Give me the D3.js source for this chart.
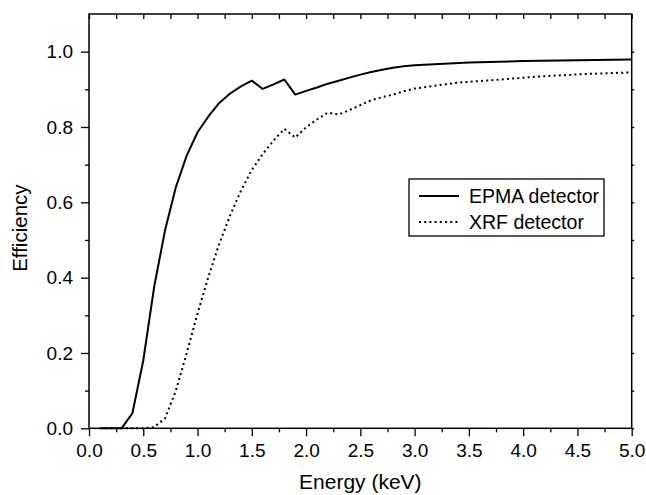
<!DOCTYPE html>
<html>
<head>
<meta charset="utf-8">
<script src="https://cdn.jsdelivr.net/npm/d3@7"></script>
<style>
  body { margin: 0; background: #fff; }
  svg { display: block; font-family: "Liberation Sans", Arial, sans-serif; }
</style>
</head>
<body>
<svg id="chart" width="646" height="495"></svg>
<script>
// Detector efficiency vs energy

const epmaEnergy = [0.1, 0.2, 0.3, 0.4, 0.5, 0.6, 0.7, 0.8, 0.9, 1.0, 1.1, 1.2, 1.3, 1.4, 1.5, 1.6, 1.7, 1.8, 1.9, 2.0,
    2.1, 2.2, 2.3, 2.4, 2.5, 2.6, 2.7, 2.8, 2.9, 3.0, 3.5, 4.0, 4.5, 5.0];
const epmaEff = [0, 0, 0, 0.04, 0.18, 0.375, 0.525, 0.64, 0.724, 0.786, 0.828, 0.864, 0.889, 0.908, 0.923, 0.901, 0.913, 0.926, 0.886, 0.896,
    0.905, 0.915, 0.923, 0.931, 0.939, 0.946, 0.952, 0.957, 0.961, 0.964, 0.971, 0.975, 0.977, 0.979];

const xrfEnergy = [0.1, 0.2, 0.3, 0.4, 0.5, 0.6, 0.7, 0.8, 0.9, 1.0, 1.1, 1.2, 1.3, 1.4, 1.5, 1.6, 1.7, 1.8, 1.9, 2.0,
    2.1, 2.2, 2.3, 2.4, 2.5, 2.6, 2.7, 2.8, 2.9, 3.0, 3.2, 3.4, 3.6, 3.8, 4.0, 4.2, 4.4, 4.6, 4.8, 5.0];
const xrfEff = [0, 0, 0, 0, 0, 0.003, 0.026, 0.10, 0.199, 0.305, 0.402, 0.49, 0.565, 0.631, 0.686, 0.728, 0.764, 0.795, 0.772, 0.799,
    0.82, 0.838, 0.833, 0.845, 0.858, 0.871, 0.879, 0.886, 0.895, 0.902, 0.91, 0.918, 0.922, 0.926, 0.931, 0.935, 0.938, 0.941, 0.943, 0.945];

const xMajor = [0, 0.5, 1.0, 1.5, 2.0, 2.5, 3.0, 3.5, 4.0, 4.5, 5.0];
const xMinor = [0.25, 0.75, 1.25, 1.75, 2.25, 2.75, 3.25, 3.75, 4.25, 4.75];
const yMajor = [0, 0.2, 0.4, 0.6, 0.8, 1.0];
const yMinor = [0.1, 0.3, 0.5, 0.7, 0.9];

const seriesNames = ['EPMA detector', 'XRF detector'];

const svg = d3.select('#chart');
const margin = { left: 89, right: 14.3, top: 14, bottom: 66.7 };
const width = 646, height = 495;

const x = d3.scaleLinear().domain([0, 5]).range([margin.left, width - margin.right]);
const y = d3.scaleLinear().domain([0, 1.1]).range([height - margin.bottom, margin.top]);

const g = svg.append('g');

// Axes: outward major/minor ticks on left and bottom
const bottomAxis = g.append('g').attr('transform', `translate(0, ${y(0)})`);
bottomAxis.call(d3.axisBottom(x).tickValues(xMajor).tickSize(8).tickPadding(7).tickFormat(d3.format('.1f')));
bottomAxis.append('g').call(d3.axisBottom(x).tickValues(xMinor).tickSize(4).tickFormat(''));

const leftAxis = g.append('g').attr('transform', `translate(${x(0)}, 0)`);
leftAxis.call(d3.axisLeft(y).tickValues(yMajor).tickSize(8).tickPadding(8).tickFormat(d3.format('.1f')));
leftAxis.append('g').call(d3.axisLeft(y).tickValues(yMinor).tickSize(4).tickFormat(''));

// Mirror axes
const topAxis = g.append('g').attr('transform', `translate(0, ${y(1.1)})`);
topAxis.call(d3.axisBottom(x).tickValues(xMajor.concat(xMinor)).tickSize(5).tickFormat(''));

const rightAxis = g.append('g').attr('transform', `translate(${x(5)}, 0)`);
rightAxis.call(d3.axisRight(y).tickValues(yMajor.concat(yMinor)).tickSize(2.5).tickFormat(''));

// Plain frame instead of d3 domain paths
g.selectAll('.domain').remove();
g.append('rect')
    .attr('x', x(0)).attr('y', y(1.1))
    .attr('width', x(5) - x(0)).attr('height', y(0) - y(1.1))
    .attr('fill', 'none').attr('stroke', '#000').attr('stroke-width', 1.5);

g.selectAll('.tick line').attr('stroke', '#000').attr('stroke-width', 1.3);
g.selectAll('.tick text')
    .attr('fill', '#000')
    .style('font-size', '19px')
    .style('font-family', '"Liberation Sans", Arial, sans-serif');

// Lines
const line = d3.line().x(d => x(d[0])).y(d => y(d[1]));
const epma = epmaEnergy.map((e, i) => [e, epmaEff[i]]);
const xrf = xrfEnergy.map((e, i) => [e, xrfEff[i]]);

g.append('path')
    .attr('d', line(epma))
    .attr('fill', 'none')
    .attr('stroke', '#000')
    .attr('stroke-width', 2)
    .attr('stroke-linejoin', 'round');

g.append('path')
    .attr('d', line(xrf))
    .attr('fill', 'none')
    .attr('stroke', '#000')
    .attr('stroke-width', 2)
    .attr('stroke-dasharray', '2,3.2');

// Axis titles
svg.append('text')
    .attr('x', (x(0) + x(5)) / 2)
    .attr('y', 489)
    .attr('text-anchor', 'middle')
    .style('font-size', '21px')
    .text('Energy (keV)');

svg.append('text')
    .attr('transform', `translate(27, ${(y(0) + y(1.1)) / 2 + 7}) rotate(-90)`)
    .attr('text-anchor', 'middle')
    .style('font-size', '20.5px')
    .text('Efficiency');

// Legend
const legend = svg.append('g');
legend.append('rect')
    .attr('x', 409).attr('y', 179)
    .attr('width', 195).attr('height', 57)
    .attr('fill', '#fff').attr('stroke', '#000').attr('stroke-width', 1.3);

const legendItems = legend.selectAll('.legend-item')
    .data(seriesNames)
    .enter()
    .append('g')
    .attr('transform', (d, i) => `translate(0, ${196 + i * 26})`);

legendItems.append('line')
    .attr('x1', 419).attr('x2', 459)
    .attr('stroke', '#000')
    .attr('stroke-width', 2)
    .attr('stroke-dasharray', (d, i) => i === 1 ? '2,3.2' : null);

legendItems.append('text')
    .attr('x', 469)
    .attr('y', 6.8)
    .style('font-size', '19.5px')
    .text(d => d);
</script>
</body>
</html>
